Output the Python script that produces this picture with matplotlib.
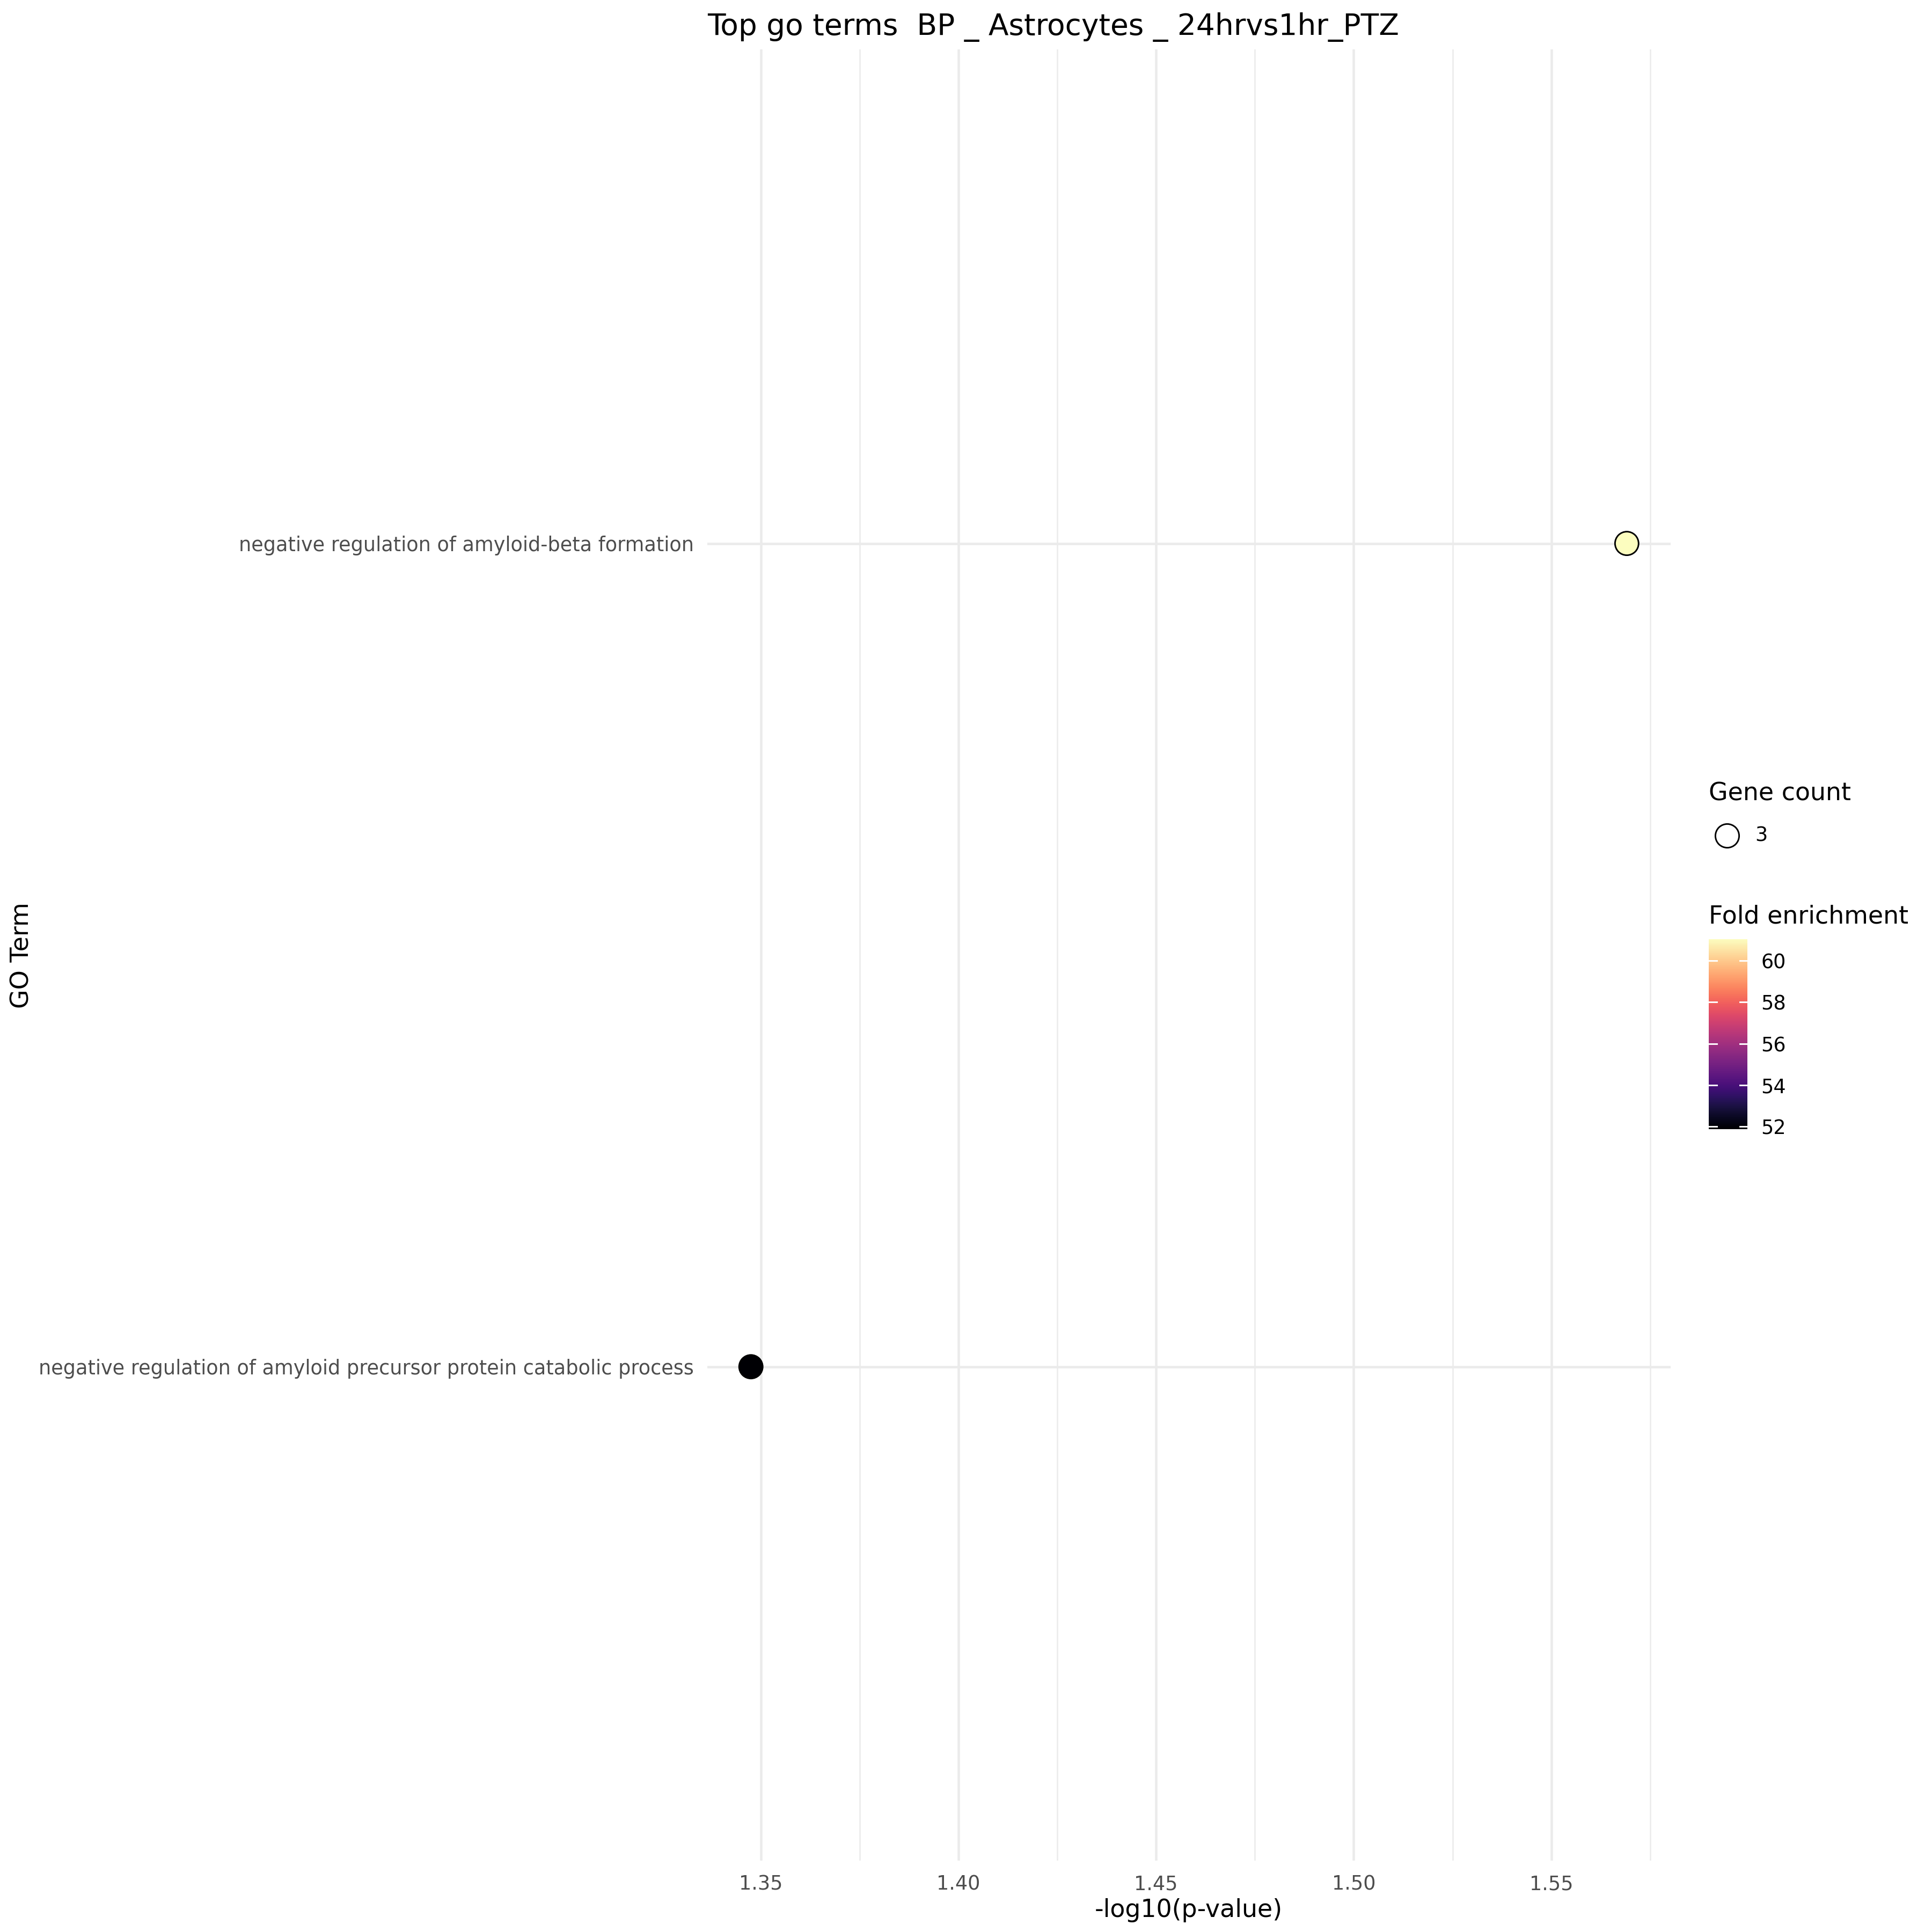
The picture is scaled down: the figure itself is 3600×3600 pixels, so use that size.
import matplotlib
matplotlib.use("Agg")
import matplotlib.pyplot as plt
import numpy as np

# data
terms = ["negative regulation of amyloid precursor protein catabolic process",
         "negative regulation of amyloid-beta formation"]
neg_log10_p = [1.3475, 1.5691]
fold_enrichment = [51.87, 61.05]
gene_count = [3, 3]
x_ticks = [1.35, 1.40, 1.45, 1.50, 1.55]
cbar_ticks = [52, 54, 56, 58, 60]

plt.rcParams['font.family'] = ['DejaVu Sans']
grid_col = "#EBEBEB"
lab_col = "#4D4D4D"

fig = plt.figure(figsize=(12, 12), dpi=300)
ax = fig.add_axes([0.366, 0.0369, 0.4987, 0.9375])

ypos = np.arange(len(terms))
cmap = plt.get_cmap("magma")
vmin, vmax = min(fold_enrichment), max(fold_enrichment)

# grid like theme_minimal
for t in x_ticks:
    ax.axvline(t, color=grid_col, lw=1.1, zorder=0)
for t in np.array(x_ticks) + 0.025:
    ax.axvline(t, color=grid_col, lw=0.6, zorder=0)
for y in ypos:
    ax.axhline(y, color=grid_col, lw=1.1, zorder=0)

sc = ax.scatter(neg_log10_p, ypos, c=fold_enrichment, cmap=cmap, vmin=vmin, vmax=vmax,
                s=[g * 37 for g in gene_count], edgecolors="black", linewidths=0.7, zorder=3)

rng = max(neg_log10_p) - min(neg_log10_p)
ax.set_xlim(min(neg_log10_p) - 0.05 * rng, max(neg_log10_p) + 0.05 * rng)
ax.set_ylim(-0.6, len(terms) - 1 + 0.6)
ax.set_xticks(x_ticks)
ax.set_xticklabels([f"{t:.2f}" for t in x_ticks])
ax.set_yticks(ypos)
ax.set_yticklabels(terms)
ax.tick_params(length=0, labelsize=8.8, labelcolor=lab_col, pad=6)
for s in ax.spines.values():
    s.set_visible(False)

ax.set_xlabel("-log10(p-value)", fontsize=11, labelpad=2)
fig.text(0.0115, 0.5055, "GO Term", fontsize=11, rotation=90, va="center", ha="center")
fig.text(0.5453, 0.9935, "Top go terms  BP _ Astrocytes _ 24hrvs1hr_PTZ", fontsize=13.2,
         va="top", ha="center")

# size legend
fig.text(0.8845, 0.5893, "Gene count", fontsize=11, va="center")
fig.add_artist(plt.Line2D([0.8938], [0.5676], marker="o", markersize=10.6, markerfacecolor="none",
                          markeredgecolor="black", markeredgewidth=0.7, transform=fig.transFigure))
fig.text(0.9085, 0.5676, str(gene_count[0]), fontsize=8.8, va="center")

# colour bar
fig.text(0.8845, 0.5255, "Fold enrichment", fontsize=11, va="center")
cax = fig.add_axes([0.8845, 0.4155, 0.0200, 0.0985])
cb = fig.colorbar(sc, cax=cax, ticks=cbar_ticks)
cb.outline.set_visible(False)
cax.tick_params(length=0, labelsize=8.8, pad=6)
for t in cbar_ticks:
    cax.plot([0, 0.2], [t, t], color="white", lw=0.7, transform=cax.get_yaxis_transform())
    cax.plot([0.8, 1.0], [t, t], color="white", lw=0.7, transform=cax.get_yaxis_transform())

fig.savefig("out.png", dpi=300, facecolor="white")
